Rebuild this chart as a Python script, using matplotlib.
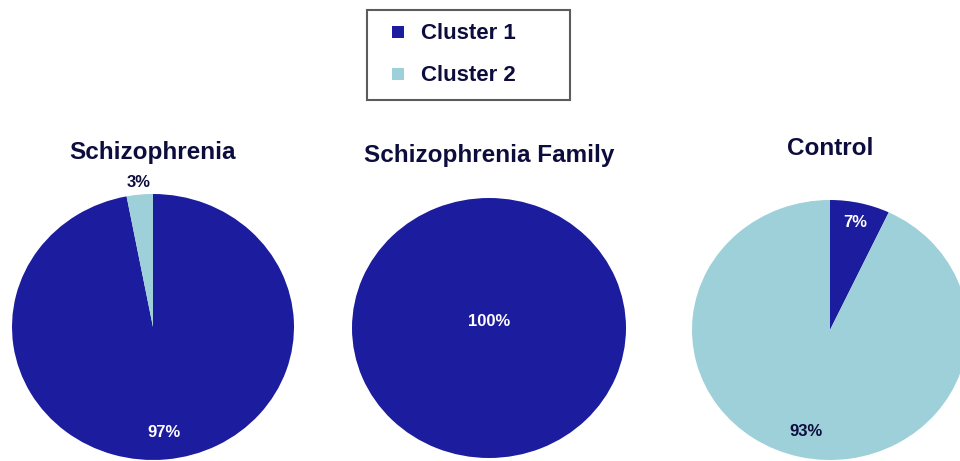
import matplotlib.pyplot as plt
from matplotlib.lines import Line2D
import numpy as np

# DATA
groups = ['Schizophrenia', 'Schizophrenia Family', 'Control']
clusters = ['Cluster 1', 'Cluster 2']
cluster1 = [97, 100, 7]
cluster2 = [3, 0, 93]

colors = ['#1c1c9e', '#9dd0d8']
navy = '#0d0d3d'

plt.rcParams['font.family'] = ['Liberation Sans', 'DejaVu Sans']
plt.rcParams['font.weight'] = 'bold'

W, H = 960, 461
fig = plt.figure(figsize=(W / 100, H / 100), dpi=100)

# pixel layout for each pie: center x, center y, radius x, radius y, title y
layout = [
    (153, 327, 141, 133, 153),
    (489, 328, 137, 130, 155),
    (830, 330, 138, 130, 148),
]

for i, name in enumerate(groups):
    cx, cy, rx, ry, ty = layout[i]
    ax = fig.add_axes([(cx - rx) / W, 1 - (cy + ry) / H, 2 * rx / W, 2 * ry / H])
    vals = [cluster1[i], cluster2[i]]
    wedges, _ = ax.pie(vals, colors=colors, startangle=90, counterclock=False,
                       wedgeprops=dict(linewidth=0))
    ax.set_aspect('auto')
    ax.set_xlim(-1, 1)
    ax.set_ylim(-1, 1)
    ax.axis('off')
    for w in wedges:
        w.set_clip_on(False)

    total = sum(vals)
    for w, v, c in zip(wedges, vals, colors):
        if v == 0:
            continue
        frac = v / total
        if frac == 1:
            r = 0.0
        elif frac < 0.05:
            r = 1.09
        elif frac < 0.5:
            r = 0.85
        else:
            r = 0.80
        ang = np.deg2rad((w.theta1 + w.theta2) / 2)
        tcol = 'white' if (c == colors[0] and r < 1) else navy
        ax.text(r * np.cos(ang), r * np.sin(ang) + (0.05 if r == 0 else 0), '%d%%' % v,
                ha='center', va='center', fontsize=12, fontweight='bold',
                color=tcol, clip_on=False)

    fig.text(cx / W, 1 - ty / H, name, ha='center', va='center',
             fontsize=17.5, fontweight='bold', color=navy)

handles = [Line2D([], [], linestyle='none', marker='s', markersize=9,
                  markerfacecolor=c, markeredgewidth=0) for c in colors]
leg = fig.legend(handles, clusters, loc='upper left',
                 bbox_to_anchor=(367 / W, 1 - 97 / H, 203 / W, 87 / H), mode='expand',
                 borderaxespad=0, fontsize=16, frameon=True, fancybox=False,
                 edgecolor='#333333', handlelength=1.6, handletextpad=0.22,
                 labelspacing=0.95, borderpad=0.6)
leg.get_frame().set_linewidth(1.5)
for t in leg.get_texts():
    t.set_color(navy)
    t.set_fontweight('bold')

fig.savefig('out.png', dpi=100)
